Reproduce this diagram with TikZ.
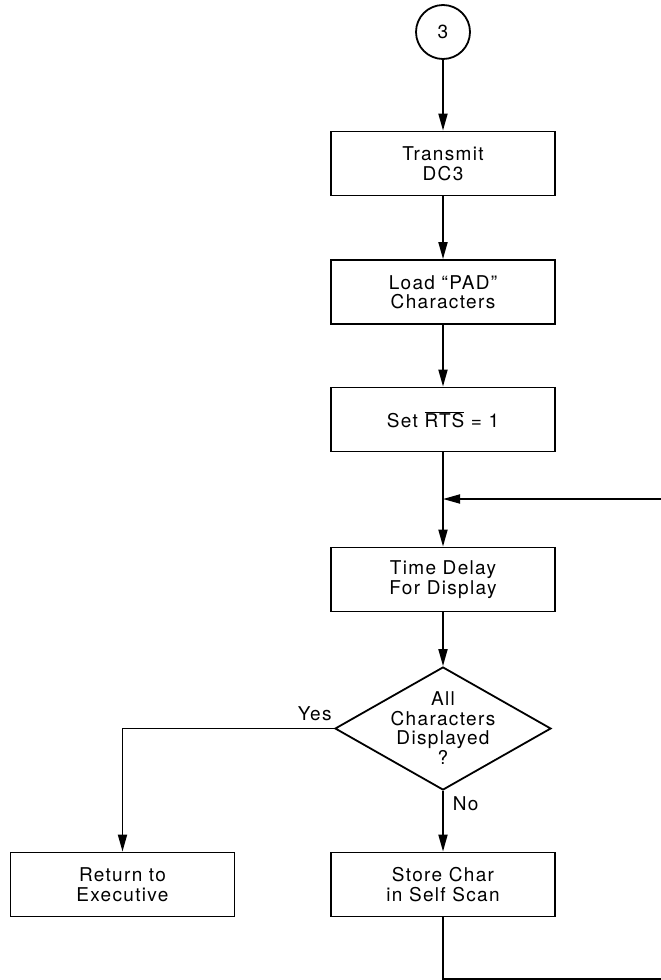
\documentclass[tikz,border=0pt]{standalone}
\usepackage{fontspec}
\setmainfont{TeX Gyre Heros}[LetterSpace=7]
\usetikzlibrary{arrows.meta,shapes.geometric}
\begin{document}
\begin{tikzpicture}[x=1pt,y=-1pt,
  line width=1.8pt,
  flow/.style={-{Triangle[length=17pt,width=9pt]}},
  txt/.style={font=\fontsize{19}{19.5}\selectfont, align=center, inner sep=0pt},
  procbox/.style={draw, txt, minimum width=224pt, minimum height=64pt},
  decision/.style={draw, diamond, minimum width=216pt, minimum height=123pt, inner sep=0pt},
  connector/.style={draw, circle, minimum size=54pt, txt},
  lbl/.style={txt}]
\useasboundingbox (0,0) rectangle (661,980);

\node[connector] (c3) at (443,32) {3};
\node[procbox] (b1) at (443,163.5) {Transmit\\DC3};
\node[procbox] (b2) at (443,292) {Load “PAD”\\Characters};
\node[procbox] (b3) at (443,419.5) {Set $\overline{\hbox{RTS}}$ = 1};
\node[procbox] (b4) at (443,579.5) {Time Delay\\For Display};
\node[decision] (d1) at (443,728.5) {};
\node[txt] (d1t) at (443,728) {All\\Characters\\Displayed\\?};
\node[procbox] (b5) at (443,884.5) {Store Char\\in Self Scan};
\node[procbox] (b6) at (122.5,884.5) {Return to\\Executive};

\node[lbl, anchor=base west] (yes) at (297,720) {Yes};
\node[lbl, anchor=base west] (no) at (452,810) {No};

\coordinate (j1) at (443,499);
\coordinate (rin) at (661,499);
\coordinate (bot) at (443,979);
\coordinate (rout) at (661,979);
\coordinate (ycorner) at (122.5,728.5);

\draw[flow] (c3) -- (b1);
\draw[flow] (b1) -- (b2);
\draw[flow] (b2) -- (b3);
\draw[flow] (b3) -- (b4);
\draw[flow] (rin) -- (j1);
\draw[flow] (b4) -- (d1);
\draw[flow] (d1) -- (b5);
\draw[flow] (d1.west) -- (ycorner) -- (b6);
\draw (b5) -- (bot) -- (rout);
\end{tikzpicture}
\end{document}
